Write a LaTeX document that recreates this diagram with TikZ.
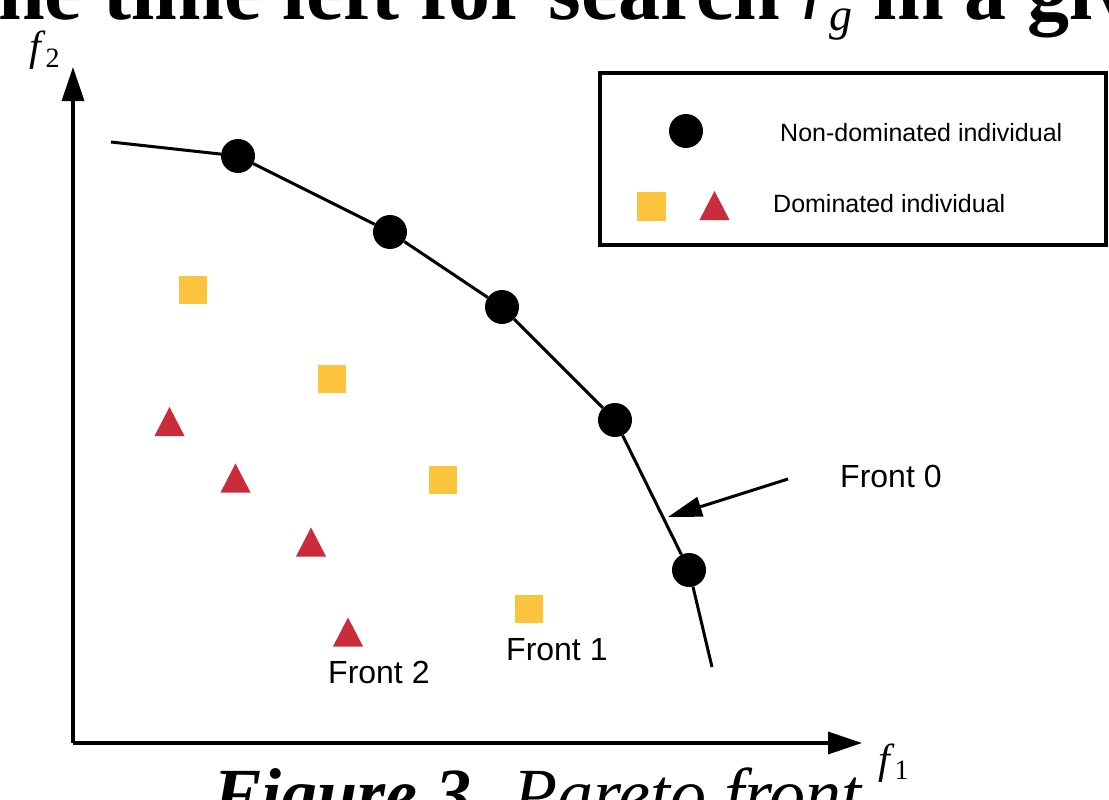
\documentclass[tikz,border=0pt]{standalone}
\usepackage{fontspec}
\setmainfont{Liberation Serif}
\newfontfamily\labelfont{Liberation Sans}
\usetikzlibrary{arrows.meta}

\definecolor{domyellow}{HTML}{FCC43C}
\definecolor{domred}{HTML}{C92C3B}

\tikzset{
  nondom/.style={circle,fill=black,inner sep=0pt,minimum size=34pt},
  domsq/.style={rectangle,fill=domyellow,inner sep=0pt,minimum size=28pt},
  domtri/.pic={\fill[domred] (0,-19.5) -- (15,9.5) -- (-15,9.5) -- cycle;},
  axisline/.style={line width=3.5pt,-{Triangle[length=34pt,width=22pt]}},
  frontline/.style={line width=3pt},
  pointer/.style={line width=3pt,-{Triangle[length=34pt,width=20pt]}},
  lbl/.style={font=\labelfont\fontsize{32}{36}\selectfont,anchor=base west,inner sep=0pt},
  legtext/.style={font=\labelfont\fontsize{25}{28}\selectfont,anchor=base west,inner sep=0pt},
  axlbl/.style={anchor=base west,inner sep=0pt,font=\fontsize{42}{44}\selectfont},
}

\begin{document}
\begin{tikzpicture}[x=1pt,y=-1pt]
\useasboundingbox (0,0) rectangle (1109,800);
\clip (0,0) rectangle (1109,800);
\fill[white] (0,0) rectangle (1109,800);

% cut-off page text above and below
\node[anchor=base west,inner sep=0pt,font=\fontsize{84}{90}\selectfont\bfseries] (toptext) at (-30,20) {the time left for search {\mdseries\itshape r\kern-4pt\raisebox{-11pt}{\fontsize{46}{50}\selectfont g}} in a given};
\node[anchor=base west,inner sep=0pt,font=\fontsize{72}{76}\selectfont] (caption) at (213,818) {\textbf{\textit{Figure 3.}} \textit{Pareto front}};

% axes
\coordinate (o) at (73,743);
\coordinate (ytip) at (73,67);
\coordinate (xtip) at (862,743);
\draw[axisline] (o) -- (ytip);
\draw[axisline] (o) -- (xtip);
\node[axlbl] (f2) at (29,61) {\textit{f}\raisebox{-6pt}{\fontsize{28}{30}\selectfont 2}};
\node[axlbl] (f1) at (878,773) {\textit{f}\raisebox{-6pt}{\fontsize{28}{30}\selectfont 1}};

% front 0
\coordinate (s0) at (111,142);
\coordinate (e0) at (712,667);
\node[nondom] (n1) at (238,156) {};
\node[nondom] (n2) at (390,232) {};
\node[nondom] (n3) at (502,307) {};
\node[nondom] (n4) at (615,420) {};
\node[nondom] (n5) at (689,570) {};
\draw[frontline] (s0) -- (n1) -- (n2) -- (n3) -- (n4) -- (n5) -- (e0);

% front 1
\node[domsq] (q1) at (193,290) {};
\node[domsq] (q2) at (332,379) {};
\node[domsq] (q3) at (443,480) {};
\node[domsq] (q4) at (529,609) {};

% front 2
\pic (t1) at (169.5,426.5) {domtri};
\pic (t2) at (235.5,483) {domtri};
\pic (t3) at (311,547) {domtri};
\pic (t4) at (348,637) {domtri};

% labels
\node[lbl] (lbl0) at (840,487) {Front 0};
\node[lbl] (lbl1) at (506,660) {Front 1};
\node[lbl] (lbl2) at (328,683) {Front 2};
\coordinate (ptail) at (788,479);
\coordinate (phead) at (668,517);
\draw[pointer] (ptail) -- (phead);

% legend
\draw[line width=3.5pt] (600,73) rectangle (1106,245);
\node[nondom] (legdot) at (686,131) {};
\node[legtext] (legnd) at (780,141) {Non-dominated individual};
\node[domsq,minimum size=29pt] (legsq) at (651,206) {};
\pic (legtri) at (714.5,210.5) {domtri};
\node[legtext] (legd) at (773,212) {Dominated individual};
\end{tikzpicture}
\end{document}
